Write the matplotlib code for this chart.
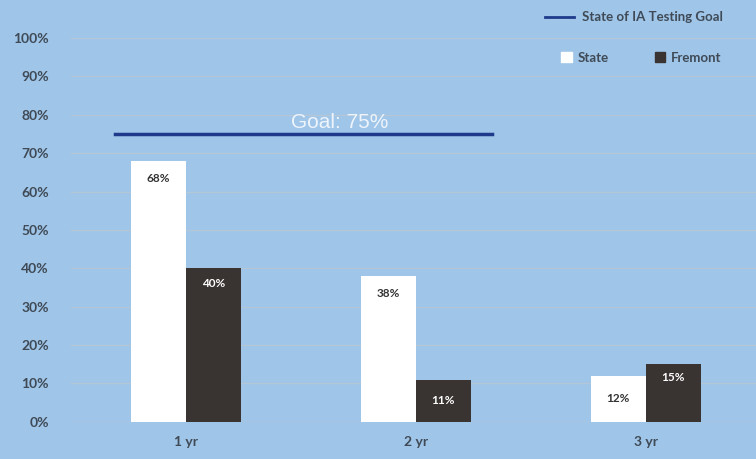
import matplotlib.pyplot as plt
import numpy as np
from matplotlib.lines import Line2D
from matplotlib.patches import Patch

categories = ['1 yr', '2 yr', '3 yr']
state = [68, 38, 12]
fremont = [40, 11, 15]
goal = 75

bg = '#9fc5e8'
dark = '#393331'
txt = '#3f4a56'

plt.rcParams['font.family'] = ['Lato', 'DejaVu Sans']

fig = plt.figure(figsize=(7.56, 4.59), dpi=100, facecolor=bg)
ax = fig.add_axes([0.094, 0.081, 0.906, 0.836], facecolor=bg)

x = np.arange(len(categories))
w = 0.24
b1 = ax.bar(x - w / 2, state, w, color='white', zorder=3)
b2 = ax.bar(x + w / 2, fremont, w, color=dark, zorder=3)

for rect, v in zip(b1, state):
    y = v - 4.5 if v > 20 else v / 2
    ax.text(rect.get_x() + rect.get_width() / 2, y, f'{v}%', ha='center', va='center',
            fontsize=8.5, color='#333333', fontweight='bold', zorder=4)
for rect, v in zip(b2, fremont):
    y = v - 4 if v > 20 else (v - 3.5 if v > 12 else v / 2)
    ax.text(rect.get_x() + rect.get_width() / 2, y, f'{v}%', ha='center', va='center',
            fontsize=8.5, color='white', fontweight='bold', zorder=4)

# goal line
ax.plot([-0.31, 1.33], [goal, goal], color='#1f3a8a', lw=2.5, zorder=4)
ax.text(0.67, goal + 3, f'Goal: {goal}%', ha='center', va='center', fontsize=15,
        color='#eef4fb', family=['Liberation Sans', 'DejaVu Sans'], zorder=5)

ax.set_xlim(-0.5, 2.48)
ax.set_ylim(0, 100)
ax.set_yticks(range(0, 101, 10))
ax.set_yticklabels([f'{t}%' for t in range(0, 101, 10)])
ax.set_xticks(x)
ax.set_xticklabels(categories)
ax.tick_params(length=0, labelsize=10, labelcolor=txt, pad=10)
ax.tick_params(axis='y', pad=16)
for lab in ax.get_xticklabels() + ax.get_yticklabels():
    lab.set_fontweight('bold')
ax.grid(axis='y', color='#b3c7d9', lw=1, zorder=0)
for s in ax.spines.values():
    s.set_visible(False)
ax.axhline(0, color='#b3c7d9', lw=1, zorder=2)

leg1 = fig.legend(handles=[Line2D([], [], color='#1f3a8a', lw=2)],
                  labels=['State of IA Testing Goal'], loc='center left',
                  bbox_to_anchor=(0.705, 0.962), frameon=False,
                  handlelength=2.2, handletextpad=0.6, labelcolor=txt,
                  prop={'weight': 'bold', 'size': 9.5})
leg2 = fig.legend(handles=[Patch(color='white'), Patch(color=dark)],
                  labels=['State', 'Fremont'], loc='center left', ncol=2,
                  bbox_to_anchor=(0.727, 0.874), frameon=False,
                  handlelength=0.8, handleheight=0.8, handletextpad=0.4,
                  columnspacing=3.5, labelcolor=txt,
                  prop={'weight': 'bold', 'size': 9.5})

fig.savefig('out.png', dpi=100, facecolor=bg)
